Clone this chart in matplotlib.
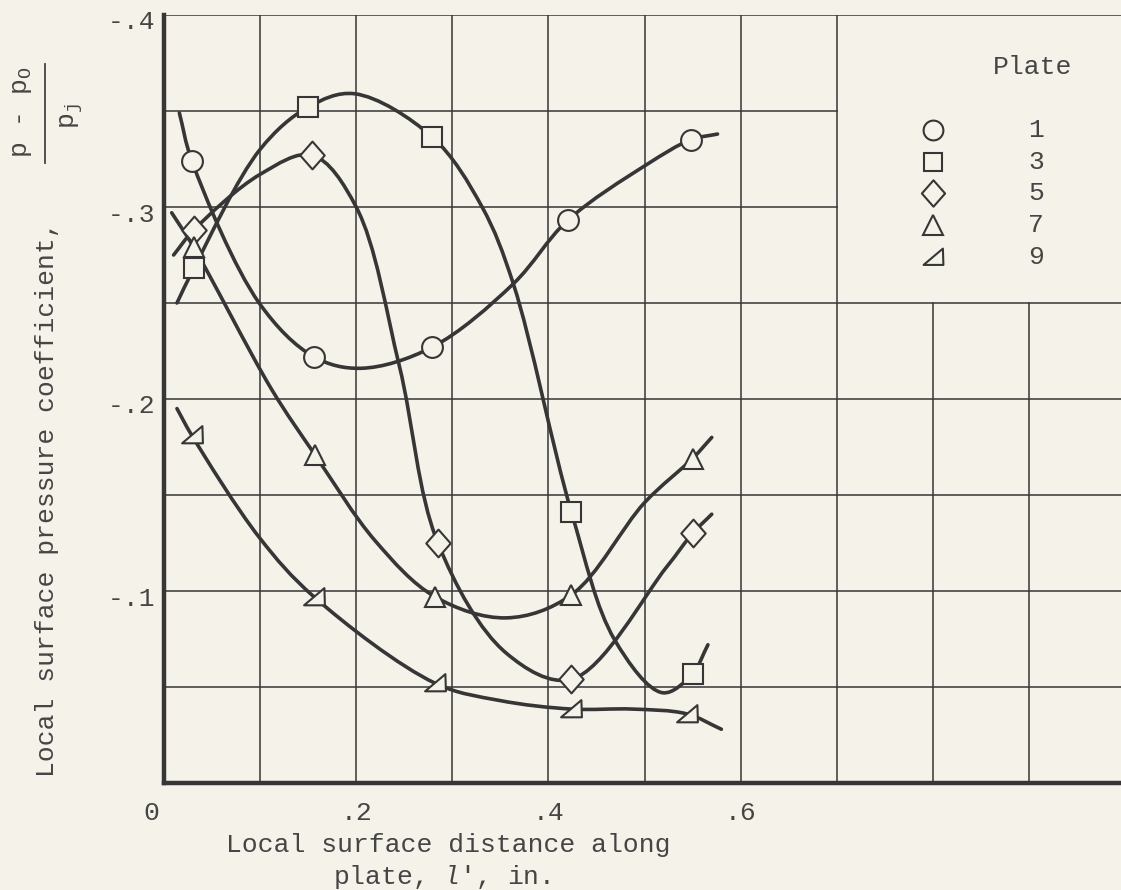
import numpy as np
import matplotlib
matplotlib.use("Agg")
import matplotlib.pyplot as plt
from matplotlib.path import Path
from matplotlib.patches import PathPatch
from matplotlib.transforms import ScaledTranslation

# ==========================
# DATOS
# ==========================
plates = ["1", "3", "5", "7", "9"]

# puntos medidos
plate1_x = [0.029, 0.156, 0.279, 0.420, 0.548]
plate1_y = [-0.324, -0.222, -0.227, -0.293, -0.335]
plate3_x = [0.031, 0.150, 0.279, 0.424, 0.550]
plate3_y = [-0.268, -0.352, -0.3365, -0.141, -0.057]
plate5_x = [0.031, 0.154, 0.285, 0.424, 0.550]
plate5_y = [-0.288, -0.327, -0.125, -0.054, -0.130]
plate7_x = [0.031, 0.157, 0.282, 0.424, 0.550]
plate7_y = [-0.279, -0.171, -0.097, -0.098, -0.169]
plate9_x = [0.029, 0.156, 0.282, 0.424, 0.544]
plate9_y = [-0.181, -0.097, -0.052, -0.0385, -0.036]

# curvas trazadas a mano (puntos leidos sobre la linea dibujada)
fair1_x = [0.016, 0.029, 0.099, 0.156, 0.205, 0.279, 0.3635, 0.420, 0.502, 0.548, 0.576]
fair1_y = [-0.349, -0.324, -0.250, -0.222, -0.216, -0.227, -0.260, -0.293, -0.322, -0.335, -0.338]
fair3_x = [0.0135, 0.031, 0.100, 0.150, 0.198, 0.279, 0.331, 0.3635, 0.424, 0.469, 0.519, 0.550, 0.566]
fair3_y = [-0.250, -0.268, -0.330, -0.352, -0.359, -0.3365, -0.300, -0.260, -0.141, -0.0745, -0.047, -0.057, -0.072]
fair5_x = [0.010, 0.031, 0.100, 0.154, 0.200, 0.245, 0.285, 0.356, 0.424, 0.523, 0.550, 0.570]
fair5_y = [-0.275, -0.288, -0.317, -0.327, -0.300, -0.217, -0.125, -0.0677, -0.054, -0.1125, -0.130, -0.140]
fair7_x = [0.008, 0.031, 0.112, 0.157, 0.220, 0.282, 0.356, 0.424, 0.500, 0.550, 0.570]
fair7_y = [-0.297, -0.279, -0.205, -0.171, -0.126, -0.097, -0.086, -0.098, -0.146, -0.169, -0.180]
fair9_x = [0.0135, 0.029, 0.099, 0.156, 0.282, 0.349, 0.424, 0.4875, 0.544, 0.580]
fair9_y = [-0.195, -0.181, -0.128, -0.097, -0.052, -0.043, -0.0385, -0.0385, -0.036, -0.028]

# ==========================
# ESTILO
# ==========================
papel = "#f5f2e9"
tinta = "#363636"
texto = "#454545"
fs = 19

plt.rcParams["font.family"] = ["Liberation Mono", "DejaVu Sans Mono"]
plt.rcParams["mathtext.fontset"] = "custom"
plt.rcParams["mathtext.rm"] = "Liberation Mono"
plt.rcParams["mathtext.it"] = "Liberation Mono:italic"
plt.rcParams["mathtext.bf"] = "Liberation Mono:bold"

# marcador triangulo rectangulo (placa 9)
flag_tri = Path([(-1.0, -0.75), (1.0, -0.75), (0.95, 0.9), (-1.0, -0.75)],
                [Path.MOVETO, Path.LINETO, Path.LINETO, Path.CLOSEPOLY])
# rombo un poco mas alto que ancho (placa 5)
rombo = Path([(0, 1.0), (0.88, 0), (0, -1.0), (-0.88, 0), (0, 1.0)],
             [Path.MOVETO, Path.LINETO, Path.LINETO, Path.LINETO, Path.CLOSEPOLY])

markers = ["o", "s", rombo, "^", flag_tri]
msizes = [15, 14, 20, 15, 15]


def curva_suave(xs, ys, alpha=0.5):
    # Catmull-Rom centripeta -> Bezier (distancias con y escalada x2, como en pantalla)
    p = np.column_stack([xs, ys])
    ext = np.vstack([2 * p[0] - p[1], p, 2 * p[-1] - p[-2]])
    esc = np.array([1.0, 2.0])
    verts = [p[0]]
    codes = [Path.MOVETO]
    for i in range(1, len(ext) - 2):
        p0, p1, p2, p3 = ext[i - 1], ext[i], ext[i + 1], ext[i + 2]
        d1 = np.linalg.norm((p1 - p0) * esc) ** alpha
        d2 = np.linalg.norm((p2 - p1) * esc) ** alpha
        d3 = np.linalg.norm((p3 - p2) * esc) ** alpha
        b1 = (d1 ** 2 * p2 - d2 ** 2 * p0 + (2 * d1 ** 2 + 3 * d1 * d2 + d2 ** 2) * p1) / (3 * d1 * (d1 + d2))
        b2 = (d3 ** 2 * p1 - d2 ** 2 * p3 + (2 * d3 ** 2 + 3 * d3 * d2 + d2 ** 2) * p2) / (3 * d3 * (d3 + d2))
        verts += [b1, b2, p2]
        codes += [Path.CURVE4] * 3
    return Path(verts, codes)


W, H = 1121, 890
fig = plt.figure(figsize=(W / 100, H / 100), dpi=100, facecolor=papel)
x0_px, y0_px, top_px = 164, 783, 15
ax = fig.add_axes([x0_px / W, (H - y0_px) / H, (W - x0_px) / W, (y0_px - top_px) / H])
ax.set_facecolor(papel)
ax.set_xlim(0, (W - x0_px) / 961.0)
ax.set_ylim(0, -0.4)

# ===== RETICULA =====
glw = 1.1
for xv in np.arange(0.1, 0.75, 0.1):
    ax.plot([xv, xv], [0, -0.4], color=tinta, lw=glw, zorder=1)
for xv in [0.8, 0.9]:
    ax.plot([xv, xv], [0, -0.25], color=tinta, lw=glw, zorder=1)
for yv in np.arange(-0.05, -0.26, -0.05):
    ax.plot([0, 1], [yv, yv], color=tinta, lw=glw, zorder=1)
for yv in [-0.3, -0.35]:
    ax.plot([0, 0.7], [yv, yv], color=tinta, lw=glw, zorder=1)
ax.plot([0, 1], [-0.4, -0.4], color=tinta, lw=glw, zorder=1)

for s in ["top", "right"]:
    ax.spines[s].set_visible(False)
for s in ["left", "bottom"]:
    ax.spines[s].set_linewidth(3.2)
    ax.spines[s].set_color(tinta)
    ax.spines[s].set_zorder(5)

# ===== CURVAS Y PUNTOS =====
series = [
    (plate1_x, plate1_y, fair1_x, fair1_y),
    (plate3_x, plate3_y, fair3_x, fair3_y),
    (plate5_x, plate5_y, fair5_x, fair5_y),
    (plate7_x, plate7_y, fair7_x, fair7_y),
    (plate9_x, plate9_y, fair9_x, fair9_y),
]
for (px, py, fx, fy), mk, ms in zip(series, markers, msizes):
    ax.add_patch(PathPatch(curva_suave(fx, fy), fill=False, edgecolor=tinta,
                           lw=2.6, capstyle="round", zorder=3))
    ax.plot(px, py, linestyle="none", marker=mk, markersize=ms,
            markerfacecolor=papel, markeredgecolor=tinta, markeredgewidth=1.5, zorder=4)

# ===== EJES =====
ax.set_xticks([0, 0.2, 0.4, 0.6])
ax.set_xticklabels(["0", ".2", ".4", ".6"])
ax.set_yticks([-0.1, -0.2, -0.3, -0.4])
ax.set_yticklabels(["-.1", "-.2", "-.3", "-.4"])
ax.tick_params(length=0, labelsize=fs, labelcolor=texto)
ax.tick_params(axis="x", pad=13)
ax.tick_params(axis="y", pad=6)
for lbl in ax.get_yticklabels():
    lbl.set_transform(lbl.get_transform() + ScaledTranslation(0, -5 / 100, fig.dpi_scale_trans))
ax.get_xticklabels()[0].set_transform(
    ax.get_xticklabels()[0].get_transform() + ScaledTranslation(-13 / 100, 0, fig.dpi_scale_trans))

fig.text(448 / W, 1 - 845 / H, "Local surface distance along", fontsize=fs,
         color=texto, ha="center", va="center")
fig.text(442 / W, 1 - 877 / H, r"plate, $\mathit{l}$', in.", fontsize=fs,
         color=texto, ha="center", va="center")

# titulo del eje y con la fraccion armada a mano
fig.text(47 / W, 1 - 777 / H, "Local surface pressure coefficient,", fontsize=fs,
         color=texto, rotation=90, ha="center", va="bottom")
fig.text(22 / W, 1 - 112 / H, r"p - p$_\mathrm{O}$", fontsize=fs,
         color=texto, rotation=90, ha="center", va="center")
fig.text(72 / W, 1 - 116 / H, r"p$_\mathrm{j}$", fontsize=fs,
         color=texto, rotation=90, ha="center", va="center")
fig.lines.append(plt.Line2D([45 / W, 45 / W], [1 - 163 / H, 1 - 64 / H],
                            transform=fig.transFigure, color=texto, lw=1.3))

# ===== LEYENDA =====
fig.text(1033 / W, 1 - 67 / H, "Plate", fontsize=fs, color=texto, ha="center", va="center")
fila_y = [130, 162, 193, 225, 257]
for lab, mk, ms, yy in zip(plates, markers, msizes, fila_y):
    fig.lines.append(plt.Line2D([933 / W], [1 - yy / H], transform=fig.transFigure,
                                marker=mk, markersize=ms * 0.95, linestyle="none",
                                markerfacecolor=papel, markeredgecolor=tinta,
                                markeredgewidth=1.5))
    fig.text(1036 / W, 1 - yy / H, lab, fontsize=fs, color=texto, ha="center", va="center")

fig.savefig("out.png", dpi=100, facecolor=papel)
